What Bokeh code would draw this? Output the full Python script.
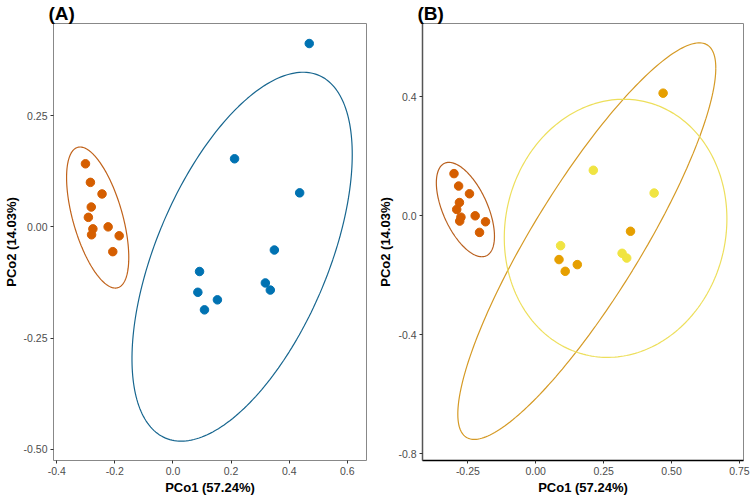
import numpy as np
from bokeh.plotting import figure
from bokeh.layouts import row
from bokeh.models import FixedTicker, PrintfTickFormatter, Range1d
from bokeh.embed import file_html
from bokeh.resources import INLINE

# ---- data (PCo1, PCo2) ----
g1_x = [-0.301, -0.284, -0.244, -0.281, -0.291, -0.2755, -0.280, -0.223, -0.185, -0.207]
g1_y = [0.1417, 0.100, 0.074, 0.0446, 0.0214, -0.0045, -0.0178, 0.0, -0.020, -0.0557]
g2_x = [0.469, 0.212, 0.436, 0.349, 0.0915, 0.0857, 0.153, 0.1085, 0.318, 0.335]
g2_y = [0.412, 0.153, 0.0764, -0.052, -0.1003, -0.147, -0.164, -0.1865, -0.126, -0.142]
# panel B split of group 2
g2a_x = [0.469, 0.349, 0.0857, 0.153, 0.1085]
g2a_y = [0.412, -0.052, -0.147, -0.164, -0.1865]
g2b_x = [0.212, 0.436, 0.0915, 0.318, 0.335]
g2b_y = [0.153, 0.0764, -0.1003, -0.126, -0.142]

# ellipse parameters: centre x, centre y, var x, cov xy, var y
ell_g1 = [-0.259, 0.021, 0.01145, -0.0096, 0.02512]
ell_g2 = [0.238, -0.067, 0.1436, 0.087, 0.1718]
ell_g2a = [0.188, -0.085, 0.2256, 0.276, 0.4436]
ell_g2b = [0.294, -0.042, 0.168, 0.013, 0.188]

a_xticks = [-0.4, -0.2, 0.0, 0.2, 0.4, 0.6]
a_yticks = [-0.5, -0.25, 0.0, 0.25]
b_xticks = [-0.25, 0.0, 0.25, 0.5, 0.75]
b_yticks = [-0.8, -0.4, 0.0, 0.4]

C_ORANGE = "#D55E00"
C_BLUE = "#0072B2"
C_AMBER = "#E69F00"
C_YELLOW = "#F0E442"

FONT = "Liberation Sans"


def ellipse_xy(par, n=240):
    cx, cy, sxx, sxy, syy = par
    L = np.linalg.cholesky(np.array([[sxx, sxy], [sxy, syy]]))
    t = np.linspace(0, 2 * np.pi, n)
    pts = L @ np.vstack([np.cos(t), np.sin(t)])
    return cx + pts[0], cy + pts[1]


def make_fig(title, xr, yr, xt, yt, xfmt, yfmt, width, bl, br):
    p = figure(width=width, height=497, output_backend="svg", toolbar_location=None,
               x_range=Range1d(*xr), y_range=Range1d(*yr),
               min_border_left=bl, min_border_right=br, min_border_top=4, min_border_bottom=10)
    p.title.text = title
    p.title.text_font = FONT
    p.title.text_font_size = "19px"
    p.title.text_font_style = "bold"
    p.title.text_color = "black"
    p.title.align = "left"
    p.title.offset = -5
    p.title.standoff = 0
    p.xgrid.visible = False
    p.ygrid.visible = False
    p.outline_line_color = "#888888"
    p.outline_line_width = 1
    p.background_fill_color = "white"
    p.border_fill_color = "white"
    p.xaxis.ticker = FixedTicker(ticks=xt)
    p.yaxis.ticker = FixedTicker(ticks=yt)
    p.xaxis.formatter = PrintfTickFormatter(format=xfmt)
    p.yaxis.formatter = PrintfTickFormatter(format=yfmt)
    p.xaxis.axis_label = "PCo1 (57.24%)"
    p.yaxis.axis_label = "PCo2 (14.03%)"
    for ax in (p.xaxis, p.yaxis):
        ax.axis_label_text_font = FONT
        ax.axis_label_text_font_size = "13px"
        ax.axis_label_text_font_style = "bold"
        ax.axis_label_text_color = "black"
        ax.axis_label_standoff = 2
        ax.major_label_text_font = FONT
        ax.major_label_text_font_size = "10.5px"
        ax.major_label_text_color = "#4D4D4D"
        ax.major_label_standoff = 3
        ax.major_tick_out = 3
        ax.major_tick_in = 0
        ax.major_tick_line_color = "#333333"
        ax.minor_tick_line_color = None
        ax.axis_line_color = None
    return p


PT = 8.5

pA = make_fig("(A)", (-0.411, 0.666), (-0.525, 0.457), a_xticks, a_yticks,
              "%.1f", "%.2f", 375, 51, 9)
x, y = ellipse_xy(ell_g1)
pA.line(x, y, line_color="#C0621A", line_width=1.2)
x, y = ellipse_xy(ell_g2)
pA.line(x, y, line_color="#17668F", line_width=1.2)
pA.scatter(g1_x, g1_y, size=PT, fill_color=C_ORANGE, line_color=C_ORANGE)
pA.scatter(g2_x, g2_y, size=PT, fill_color=C_BLUE, line_color=C_BLUE)

pB = make_fig("(B)", (-0.417, 0.765), (-0.822, 0.646), b_xticks, b_yticks,
              "%.2f", "%.1f", 375, 47, 7)
pB.xaxis.axis_line_color = "black"
pB.xaxis.axis_line_width = 1.5
pB.yaxis.axis_line_color = "#555555"
pB.yaxis.axis_line_width = 1.5
x, y = ellipse_xy(ell_g1)
pB.line(x, y, line_color="#B9601E", line_width=1.2)
x, y = ellipse_xy(ell_g2a)
pB.line(x, y, line_color="#D59A25", line_width=1.2)
x, y = ellipse_xy(ell_g2b)
pB.line(x, y, line_color="#EDDF5C", line_width=1.2)
pB.scatter(g1_x, g1_y, size=PT, fill_color=C_ORANGE, line_color=C_ORANGE)
pB.scatter(g2a_x, g2a_y, size=PT, fill_color=C_AMBER, line_color=C_AMBER)
pB.scatter(g2b_x, g2b_y, size=PT, fill_color=C_YELLOW, line_color=C_YELLOW)

layout = row(pA, pB)
open("out.html", "w").write(file_html(layout, INLINE))
